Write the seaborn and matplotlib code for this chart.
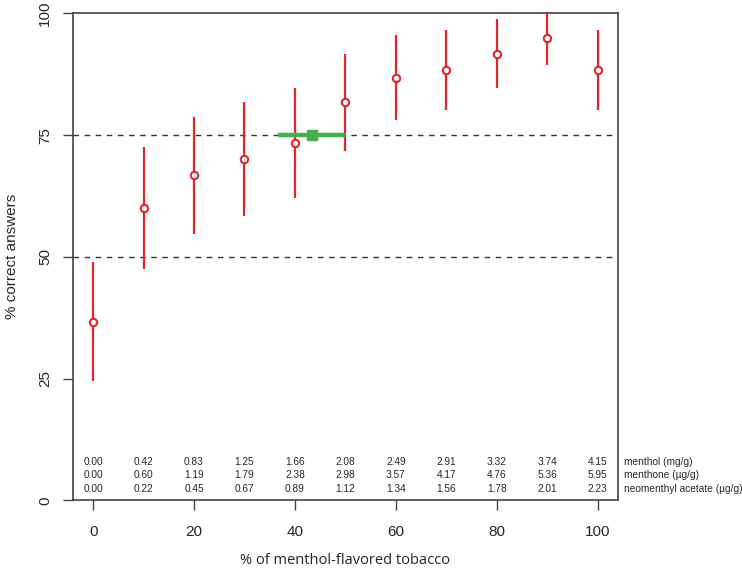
import numpy as np
import pandas as pd
import seaborn as sns
import matplotlib.pyplot as plt

# share of menthol-flavored tobacco and % correct answers with 95% CI
pct_menthol = [0, 10, 20, 30, 40, 50, 60, 70, 80, 90, 100]
correct = [36.7, 60.0, 66.7, 70.0, 73.3, 81.7, 86.7, 88.3, 91.7, 95.0, 88.3]
ci_low = [24.4, 47.5, 54.6, 58.3, 62.1, 71.8, 78.0, 80.1, 84.7, 89.4, 80.1]
ci_high = [49.0, 72.6, 78.8, 81.8, 84.7, 91.7, 95.5, 96.6, 98.8, 100.0, 96.6]

# threshold estimate (75% correct) with its interval
thr_x = 43.3
thr_low = 36.7
thr_high = 49.9
thr_y = 75

menthol = ["0.00", "0.42", "0.83", "1.25", "1.66", "2.08", "2.49", "2.91", "3.32", "3.74", "4.15"]
menthone = ["0.00", "0.60", "1.19", "1.79", "2.38", "2.98", "3.57", "4.17", "4.76", "5.36", "5.95"]
neomenthyl = ["0.00", "0.22", "0.45", "0.67", "0.89", "1.12", "1.34", "1.56", "1.78", "2.01", "2.23"]
row_names = ["menthol (mg/g)", "menthone (\u00b5g/g)", "neomenthyl acetate (\u00b5g/g)"]

df = pd.DataFrame({"pct": pct_menthol, "correct": correct,
                   "low": ci_low, "high": ci_high})

sns.set_style("white")
plt.rcParams["font.family"] = ["Liberation Sans", "DejaVu Sans"]

fig = plt.figure(figsize=(7.42, 5.69), dpi=100)
ax = fig.add_axes([0.0984, 0.1207, 0.7341, 0.8559])

red = "#e3262b"
green = "#45b04a"

ax.axhline(50, color="#333333", lw=1, ls=(0, (4, 4)), zorder=1)
ax.axhline(75, color="#333333", lw=1, ls=(0, (4, 4)), zorder=1)

ax.vlines(df["pct"], df["low"], df["high"], color=red, lw=1.6, zorder=2)
sns.scatterplot(data=df, x="pct", y="correct", ax=ax, marker="o", s=28,
                facecolor="white", edgecolor=red, linewidth=1.5, zorder=3)

ax.hlines(thr_y, thr_low, thr_high, color=green, lw=3.2, zorder=4)
ax.plot([thr_x], [thr_y], marker="s", ms=7.5, color=green, zorder=5)

ax.set_xlim(-4, 104)
ax.set_ylim(0, 100)

ax.set_xticks([0, 20, 40, 60, 80, 100])
ax.set_yticks([0, 25, 50, 75, 100])
ax.set_yticklabels(["0", "25", "50", "75", "100"], rotation=90, va="center")
ax.tick_params(axis="both", direction="out", length=7, width=1, color="#444444",
               labelsize=11, bottom=True, left=True)
ax.tick_params(axis="x", pad=11)
ax.tick_params(axis="y", pad=8)

for side in ["left", "right", "top", "bottom"]:
    ax.spines[side].set_color("#444444")
    ax.spines[side].set_linewidth(1.2)

rows = [menthol, menthone, neomenthyl]
row_y = [7.9, 5.2, 2.4]
for vals, yy, name in zip(rows, row_y, row_names):
    for xx, v in zip(pct_menthol, vals):
        ax.text(xx, yy, v, ha="center", va="center", fontsize=7.3)
    ax.text(105.2, yy, name, ha="left", va="center", fontsize=7.3, clip_on=False)

ax.set_xlabel("% of menthol-flavored tobacco", fontsize=10.5,
              family=["Open Sans", "DejaVu Sans"], va="center")
ax.xaxis.set_label_coords(0.5, -0.1245)
ax.set_ylabel("% correct answers", fontsize=11)
ax.yaxis.set_label_coords(-0.100, 0.5)

fig.savefig("out.png", dpi=100)
